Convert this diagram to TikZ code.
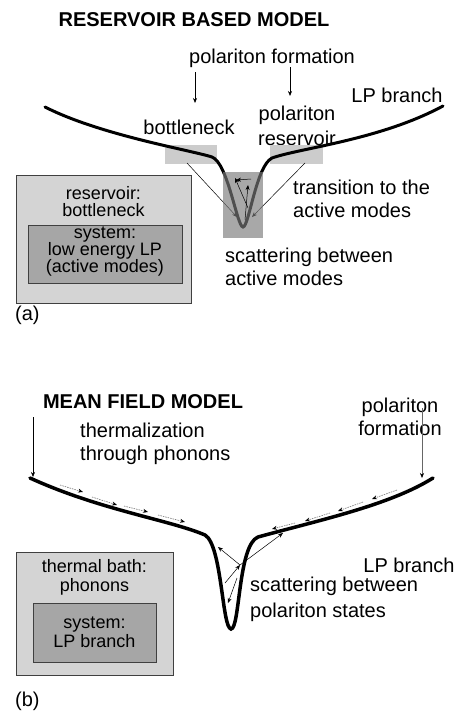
\documentclass[tikz,border=0pt]{standalone}
\usepackage{fontspec}
\setmainfont{Liberation Sans}
\usetikzlibrary{arrows.meta}
\begin{document}
\begin{tikzpicture}[x=1pt,y=-1pt,
  lbl/.style={inner sep=0pt, font=\fontsize{20}{23}\selectfont},
  boxlbl/.style={inner sep=0pt, align=center, font=\fontsize{18}{17}\selectfont},
  ttl/.style={inner sep=0pt, font=\fontsize{20}{24}\selectfont\bfseries},
  branch/.style={line width=3pt, line cap=round},
  thinarrow/.style={line width=0.6pt, -{Stealth[length=5pt,width=4pt]}},
  phonon/.style={draw=black!55, line width=0.6pt, dash pattern=on 1.5pt off 1pt, -{Stealth[length=5pt,width=4pt,black]}},
  outerbox/.style={draw=black!75, fill=black!17, line width=0.8pt},
  innerbox/.style={draw=black!75, fill=black!35, line width=0.8pt},
  lightbox/.style={fill=black!20},
  activebox/.style={fill=black!52, fill opacity=0.65},
]
\useasboundingbox (0,0) rectangle (468,712);

% ---------------- (a) reservoir based model ----------------
\node[ttl] (ttlA) at (194,20) {RESERVOIR BASED MODEL};
\node[lbl] (pfA) at (272,58) {polariton formation};
\node[lbl] (lpA) at (397,95) {LP branch};
\node[lbl] (bn) at (189,127) {bottleneck};
\node[lbl, align=center, font=\fontsize{20}{25}\selectfont] (pr) at (297,126) {polariton\\reservoir};
\node[lbl, align=left, anchor=west] (tr) at (293,198.5) {transition to the\\active modes};
\node[lbl, align=left, anchor=west] (scA) at (225,266.5) {scattering between\\active modes};

\coordinate (fa1) at (195,72);  \coordinate (fa1e) at (195,103);
\coordinate (fa2) at (290,67);  \coordinate (fa2e) at (290,96);
\draw[thinarrow] (fa1) -- (fa1e);
\draw[thinarrow] (fa2) -- (fa2e);

\fill[lightbox] (165,145) rectangle (217,164);
\fill[lightbox] (270,145) rectangle (323,164);

\draw[branch] (45,107) .. controls (100,135) and (190,150) .. (212,157)
  .. controls (228,163) and (237,227) .. (243,227)
  .. controls (249,227) and (256,166) .. (272,158)
  .. controls (300,148) and (380,140) .. (443,106);

\coordinate (bnl) at (187,163); \coordinate (bnle) at (237,217);
\coordinate (bnr) at (305,163); \coordinate (bnre) at (252,217);
\draw[thinarrow, line width=0.5pt] (bnl) -- (bnle);
\draw[thinarrow, line width=0.5pt] (bnr) -- (bnre);

\fill[activebox] (223,172) rectangle (263,238);

\coordinate (s1) at (248,208); \coordinate (s1e) at (235,178);
\coordinate (s2) at (251,179); \coordinate (s2e) at (236,180);
\coordinate (s3) at (245,220); \coordinate (s3e) at (248,185);
\draw[thinarrow, line width=0.5pt] (s1) -- (s1e);
\draw[thinarrow, line width=0.5pt] (s2) -- (s2e);
\draw[thinarrow, line width=0.5pt] (s3) -- (s3e);

\draw[outerbox] (16,175) rectangle (191,303);
\draw[innerbox] (28,225) rectangle (182,283);
\node[boxlbl] (resA) at (103.5,201.5) {reservoir:\\bottleneck};
\node[boxlbl] (sysA) at (105,251.5) {system:\\low energy LP\\(active modes)};

\node[lbl, anchor=west] (labA) at (15,315) {(a)};

% ---------------- (b) mean field model ----------------
\node[ttl] (ttlB) at (143,402) {MEAN FIELD MODEL};
\node[lbl, align=left, anchor=west] (th) at (80,444) {thermalization\\through phonons};
\node[lbl, align=center] (pfB) at (400,416.5) {polariton\\formation};
\node[lbl] (lpB) at (409,565) {LP branch};
\node[lbl, align=left, anchor=west, font=\fontsize{20}{26}\selectfont] (scB) at (250,599) {scattering between\\polariton states};

\coordinate (la) at (33,417); \coordinate (lae) at (33,477);
\draw[thinarrow] (la) -- (lae);
\coordinate (ra) at (422,408); \coordinate (rae) at (422,478);
\draw[line width=0.6pt, draw=black!60, -{Stealth[length=5pt,width=4pt,black]}] (ra) -- (rae);

\draw[branch, line width=3.5pt] (30,478) .. controls (100,510) and (170,520) .. (205,535)
  .. controls (222,545) and (222,628) .. (231,629)
  .. controls (240,629) and (238,545) .. (258,537)
  .. controls (320,520) and (390,505) .. (433,478);

% phonon arrows, left branch
\draw[phonon] (60,485) -- (83,492);
\draw[phonon] (92,497) -- (117,505);
\draw[phonon] (124,506) -- (148,512);
\draw[phonon] (158,515) -- (185,522);
% phonon arrows, right branch
\draw[phonon] (397,490) -- (372,499);
\draw[phonon] (363,502) -- (338,511);
\draw[phonon] (330,513) -- (305,521);
\draw[phonon] (295,523) -- (272,529);

% scattering between polariton states
\coordinate (hub) at (240,565);
\coordinate (sc1) at (218,547);
\coordinate (sc2) at (283,533);
\coordinate (sc3) at (225,583);
\coordinate (sc4) at (237,578);
\coordinate (sc5) at (228,603);
\draw[thinarrow, line width=0.5pt] (hub) -- (sc1);
\draw[thinarrow, line width=0.5pt] (hub) -- (sc2);
\draw[thinarrow, line width=0.5pt] (sc3) -- (hub);
\draw[thinarrow, line width=0.5pt] (sc4) -- (sc5);

\draw[outerbox] (16,552) rectangle (173,675);
\draw[innerbox] (33,603) rectangle (156,662);
\node[boxlbl, font=\fontsize{18}{19}\selectfont] (bath) at (94.5,577) {thermal bath:\\phonons};
\node[boxlbl, font=\fontsize{18}{19}\selectfont] (sysB) at (94.5,632.5) {system:\\LP branch};

\node[lbl, anchor=west] (labB) at (15,701) {(b)};
\end{tikzpicture}
\end{document}
